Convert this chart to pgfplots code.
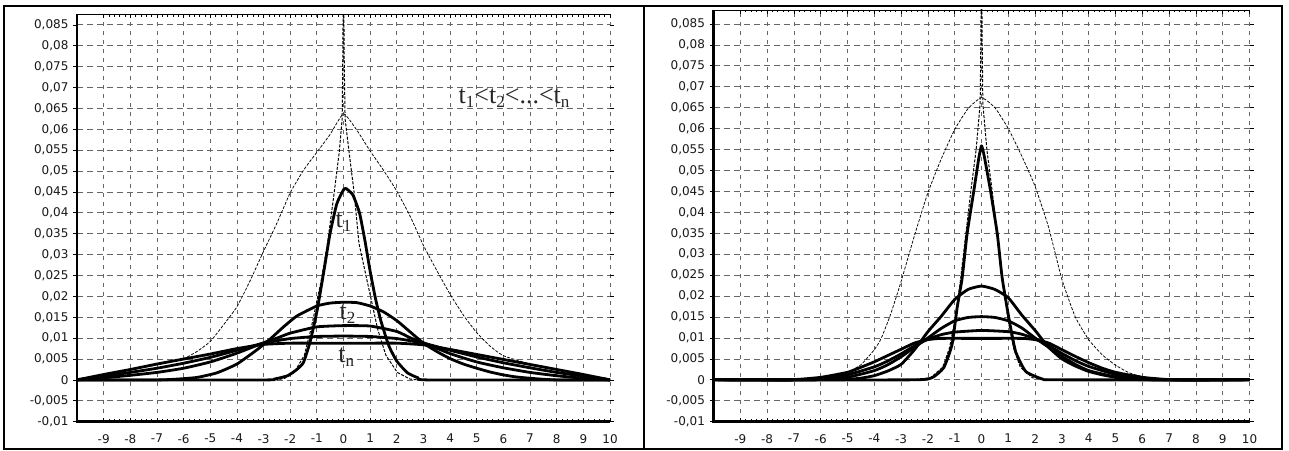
\documentclass[border=0pt]{standalone}
\usepackage{fontspec}
\setmainfont{DejaVu Sans}
\newfontfamily\annfont{Liberation Serif}
\usepackage{pgfplots}
\pgfplotsset{compat=1.18}
\newcommand{\ts}[1]{t\raisebox{-3.5pt}{\fontsize{17}{17}\selectfont #1}}
\pgfplotsset{
  myaxis/.style={
    scale only axis, anchor=south west,
    xmin=-10, xmax=10, ymin=-0.01,
    xtick={-9,...,10},
    ytick={-0.01,-0.005,0,0.005,0.01,0.015,0.02,0.025,0.03,0.035,0.04,0.045,0.05,0.055,0.06,0.065,0.07,0.075,0.08,0.085},
    scaled y ticks=false,
    /pgf/number format/.cd, use comma, fixed, precision=3, assume math mode=true,
    /pgfplots/.cd,
    tick label style={font=\fontsize{12}{12}\selectfont, color=black!90},
    xticklabel style={yshift=-9pt},
    yticklabel style={xshift=-1pt},
    axis line style={draw=none},
    grid=major,
    x grid style={black!60, line width=0.75pt, dash pattern=on 4pt off 5pt},
    y grid style={black!60, line width=0.75pt, dash pattern=on 6pt off 4pt},
    xtick align=inside, ytick align=outside,
    minor x tick num=4,
    major tick length=4pt, minor tick length=2.5pt,
    tick style={black, line width=0.7pt},
    thk/.style={black, line width=2.8pt, line join=round, smooth, tension=0.3},
    thn/.style={black, line width=0.75pt, dash pattern=on 3pt off 1.5pt, line join=round},
  }
}
\begin{document}
\begin{tikzpicture}
\useasboundingbox (0,0) rectangle (1289pt,450pt);
\fill[white] (0,0) rectangle (1289pt,450pt);
% ---------------- LEFT ----------------
\begin{axis}[myaxis, name=L, at={(77pt,28.3pt)}, width=533pt, height=407.7pt, ymax=0.0876]
\addplot[thn, smooth, tension=0.3] coordinates {(-10,0.0003) (-9,0.0012) (-8,0.0024) (-7,0.0036) (-6,0.0051) (-5.5,0.0068) (-5,0.0092) (-4.5,0.0132) (-4,0.0175) (-3.5,0.0238) (-3,0.0308) (-2.5,0.0375) (-2,0.0448) (-1.5,0.0502) (-1,0.0545) (-0.5,0.0588) (0,0.0637) (0.5,0.0598) (1,0.0548) (1.5,0.0502) (2,0.0452) (2.5,0.0392) (3,0.0322) (3.5,0.0262) (4,0.0205) (4.5,0.0155) (5,0.0113) (5.5,0.0081) (6,0.0058) (7,0.0038) (8,0.0025) (9,0.0013) (10,0.0003)};
\addplot[thn, line width=1pt] coordinates {(-10,0) (-2.5,0) (-2.2,0.0004) (-1.85,0.0018) (-1.47,0.0059) (-1.22,0.0122) (-0.85,0.0233) (-0.6,0.0327) (-0.35,0.0448) (-0.16,0.0545) (-0.05,0.0625) (-0.03,0.075) (0,0.1) (0.03,0.075) (0.06,0.0625) (0.21,0.0545) (0.4,0.0448) (0.58,0.0327) (0.9,0.0233) (1.28,0.0122) (1.59,0.0059) (2.02,0.0018) (2.5,0.0002) (2.8,0) (10,0)};
\addplot[thk] coordinates {(-10,0) (-3,0) (-2.6,0.0002) (-2.1,0.001) (-1.75,0.0025) (-1.5,0.0042) (-1.25,0.0092) (-1.0,0.0163) (-0.75,0.0255) (-0.5,0.0352) (-0.25,0.0422) (0,0.0455) (0.1,0.0458) (0.35,0.0443) (0.6,0.040) (0.8,0.0335) (1.0,0.026) (1.2,0.0195) (1.4,0.0142) (1.7,0.0082) (2.0,0.0045) (2.4,0.0017) (2.8,0.0005) (3.2,0) (10,0)};
\addplot[thk] coordinates {(-10,0) (-7,0) (-6.25,0.0002) (-5.5,0.0006) (-4.75,0.0017) (-4,0.0038) (-3.25,0.0072) (-2.75,0.0098) (-2.25,0.0127) (-1.75,0.0153) (-1,0.0177) (-0.5,0.0184) (0,0.0186) (0.5,0.0185) (1,0.0177) (1.5,0.0163) (2,0.0142) (2.5,0.0115) (3,0.0088) (3.5,0.0068) (4,0.0051) (4.5,0.0038) (5,0.0028) (5.5,0.0019) (6,0.0012) (6.5,0.0007) (7.2,0.0003) (8,0) (10,0)};
\addplot[thk] coordinates {(-10,0) (-9,0.0005) (-8,0.0011) (-7,0.0018) (-6,0.0028) (-5,0.0043) (-4,0.0064) (-3,0.0089) (-2.5,0.0100) (-2,0.0112) (-1,0.0127) (0,0.013) (1,0.0129) (2,0.0116) (2.5,0.0101) (3,0.0089) (4,0.0063) (5,0.0043) (6,0.0029) (7,0.0018) (8,0.0010) (9,0.0004) (10,0)};
\addplot[thk] coordinates {(-10,0) (-9,0.0009) (-8,0.0018) (-7,0.0028) (-6,0.0040) (-5,0.0054) (-4,0.0071) (-3,0.0088) (-2,0.0099) (-1,0.0104) (0,0.0105) (1,0.0104) (2,0.0099) (3,0.0088) (4,0.0071) (5,0.0055) (6,0.0041) (7,0.0029) (8,0.0018) (9,0.0009) (10,0)};
\addplot[thk] coordinates {(-10,0) (-9,0.0013) (-8,0.0025) (-7,0.0038) (-6,0.0050) (-5,0.0062) (-4,0.0075) (-3,0.0085) (-2,0.0088) (-1,0.0088) (0,0.0088) (1,0.0088) (2,0.0088) (3,0.0084) (4,0.0073) (5,0.0061) (6,0.0049) (7,0.0037) (8,0.0025) (9,0.0013) (10,0)};
\node[font=\annfont\fontsize{26}{26}\selectfont, text=black!85] at (axis cs:0.0,0.0378) {\ts{1}};
\node[font=\annfont\fontsize{26}{26}\selectfont, text=black!85] at (axis cs:0.15,0.0157) {\ts{2}};
\node[font=\annfont\fontsize{26}{26}\selectfont, text=black!85] at (axis cs:0.1,0.0055) {\ts{n}};
\node[font=\annfont\fontsize{26}{26}\selectfont, text=black!85] at (axis cs:6.4,0.0675) {\ts{1}<\ts{2}<...<\ts{n}};
\end{axis}
\draw[black, line width=0.8pt] (L.north west) -- (L.north east);
\draw[black, line width=2.5pt] (L.north west) -- (L.south west) -- (L.south east);
% ---------------- RIGHT ----------------
\begin{axis}[myaxis, name=R, at={(713.5pt,28.3pt)}, width=536pt, height=411.7pt, ymax=0.08834]
\addplot[thn, smooth, tension=0.3] coordinates {(-10,0) (-7,0.0001) (-6,0.0003) (-5.5,0.0007) (-5,0.0018) (-4.5,0.0036) (-4,0.0072) (-3.75,0.0098) (-3.4,0.0155) (-3,0.0235) (-2.5,0.0345) (-2,0.0447) (-1.5,0.0528) (-1,0.0598) (-0.5,0.0648) (0,0.0674) (0.5,0.0650) (1,0.0600) (1.5,0.0535) (2,0.0462) (2.5,0.0365) (3,0.0240) (3.5,0.0150) (4,0.0096) (4.5,0.0060) (5,0.0035) (5.5,0.0017) (6,0.0008) (7,0.0001) (10,0)};
\addplot[thn, line width=1pt] coordinates {(-10,0) (-2.6,0) (-1.9,0.0005) (-1.45,0.003) (-1.2,0.0075) (-1.0,0.014) (-0.8,0.023) (-0.6,0.034) (-0.4,0.045) (-0.2,0.055) (-0.05,0.066) (-0.03,0.078) (0,0.1) (0.03,0.078) (0.05,0.066) (0.2,0.055) (0.4,0.045) (0.6,0.034) (0.8,0.023) (1.0,0.014) (1.2,0.0075) (1.45,0.003) (1.9,0.0005) (2.6,0) (10,0)};
\addplot[thk] coordinates {(-10,0) (-2.6,0) (-1.85,0.0005) (-1.41,0.0029) (-1.1,0.0084) (-0.91,0.0172) (-0.72,0.0244) (-0.54,0.0348) (-0.29,0.045) (-0.1,0.053) (0,0.0559) (0.1,0.0535) (0.34,0.045) (0.59,0.0348) (0.77,0.0244) (1.02,0.0148) (1.27,0.0068) (1.65,0.002) (2.27,0.0002) (2.8,0) (10,0)};
\addplot[thk] coordinates {(-10,0) (-5.5,0) (-5,0.0001) (-4.5,0.0004) (-4,0.001) (-3.5,0.0021) (-3,0.0037) (-2.5,0.0072) (-2,0.0115) (-1.5,0.0152) (-1,0.0192) (-0.5,0.0216) (0,0.0224) (0.5,0.0216) (1,0.0196) (1.5,0.0155) (2,0.0118) (2.5,0.0078) (3,0.005) (3.5,0.0033) (4,0.002) (4.5,0.0012) (5,0.0006) (5.5,0.0002) (6.2,0) (10,0)};
\addplot[thk] coordinates {(-10,0) (-6.5,0) (-6,0.0001) (-5,0.0006) (-4,0.0022) (-3.5,0.0036) (-3,0.0055) (-2.5,0.0078) (-2,0.0100) (-1.5,0.0123) (-1,0.0141) (-0.5,0.0149) (0,0.0151) (0.5,0.0149) (1,0.0141) (1.5,0.0124) (2,0.0100) (2.5,0.0078) (3,0.0056) (3.5,0.0037) (4,0.0022) (5,0.0007) (6,0.0001) (7,0) (10,0)};
\addplot[thk] coordinates {(-10,0) (-7,0) (-6,0.0003) (-5,0.0012) (-4,0.0031) (-3.5,0.0045) (-3,0.0062) (-2.5,0.0081) (-2,0.0097) (-1.5,0.0108) (-1,0.0114) (0,0.0118) (1,0.0115) (1.5,0.0109) (2,0.0098) (2.5,0.0082) (3,0.0063) (3.5,0.0046) (4,0.0032) (5,0.0013) (6,0.0004) (7,0) (10,0)};
\addplot[thk] coordinates {(-10,0) (-7.2,0) (-6,0.0006) (-5,0.0018) (-4.5,0.003) (-4,0.0043) (-3.5,0.0058) (-3,0.0073) (-2.5,0.0088) (-2,0.0096) (-1.5,0.0099) (0,0.0099) (1.5,0.0099) (2,0.0096) (2.5,0.0088) (3,0.0072) (3.5,0.0056) (4,0.0041) (4.5,0.0028) (5,0.0018) (6,0.0006) (7.2,0) (10,0)};
\end{axis}
\draw[black, line width=0.8pt] (R.north west) -- (R.north east);
\draw[black, line width=2.5pt] (R.north west) -- (R.south west) -- (R.south east);
% ---------------- table frame ----------------
\draw[black, line width=2pt] (4pt,1pt) rectangle (1282pt,443.5pt);
\draw[black, line width=2pt] (644pt,1pt) -- (644pt,443.5pt);
\end{tikzpicture}
\end{document}
